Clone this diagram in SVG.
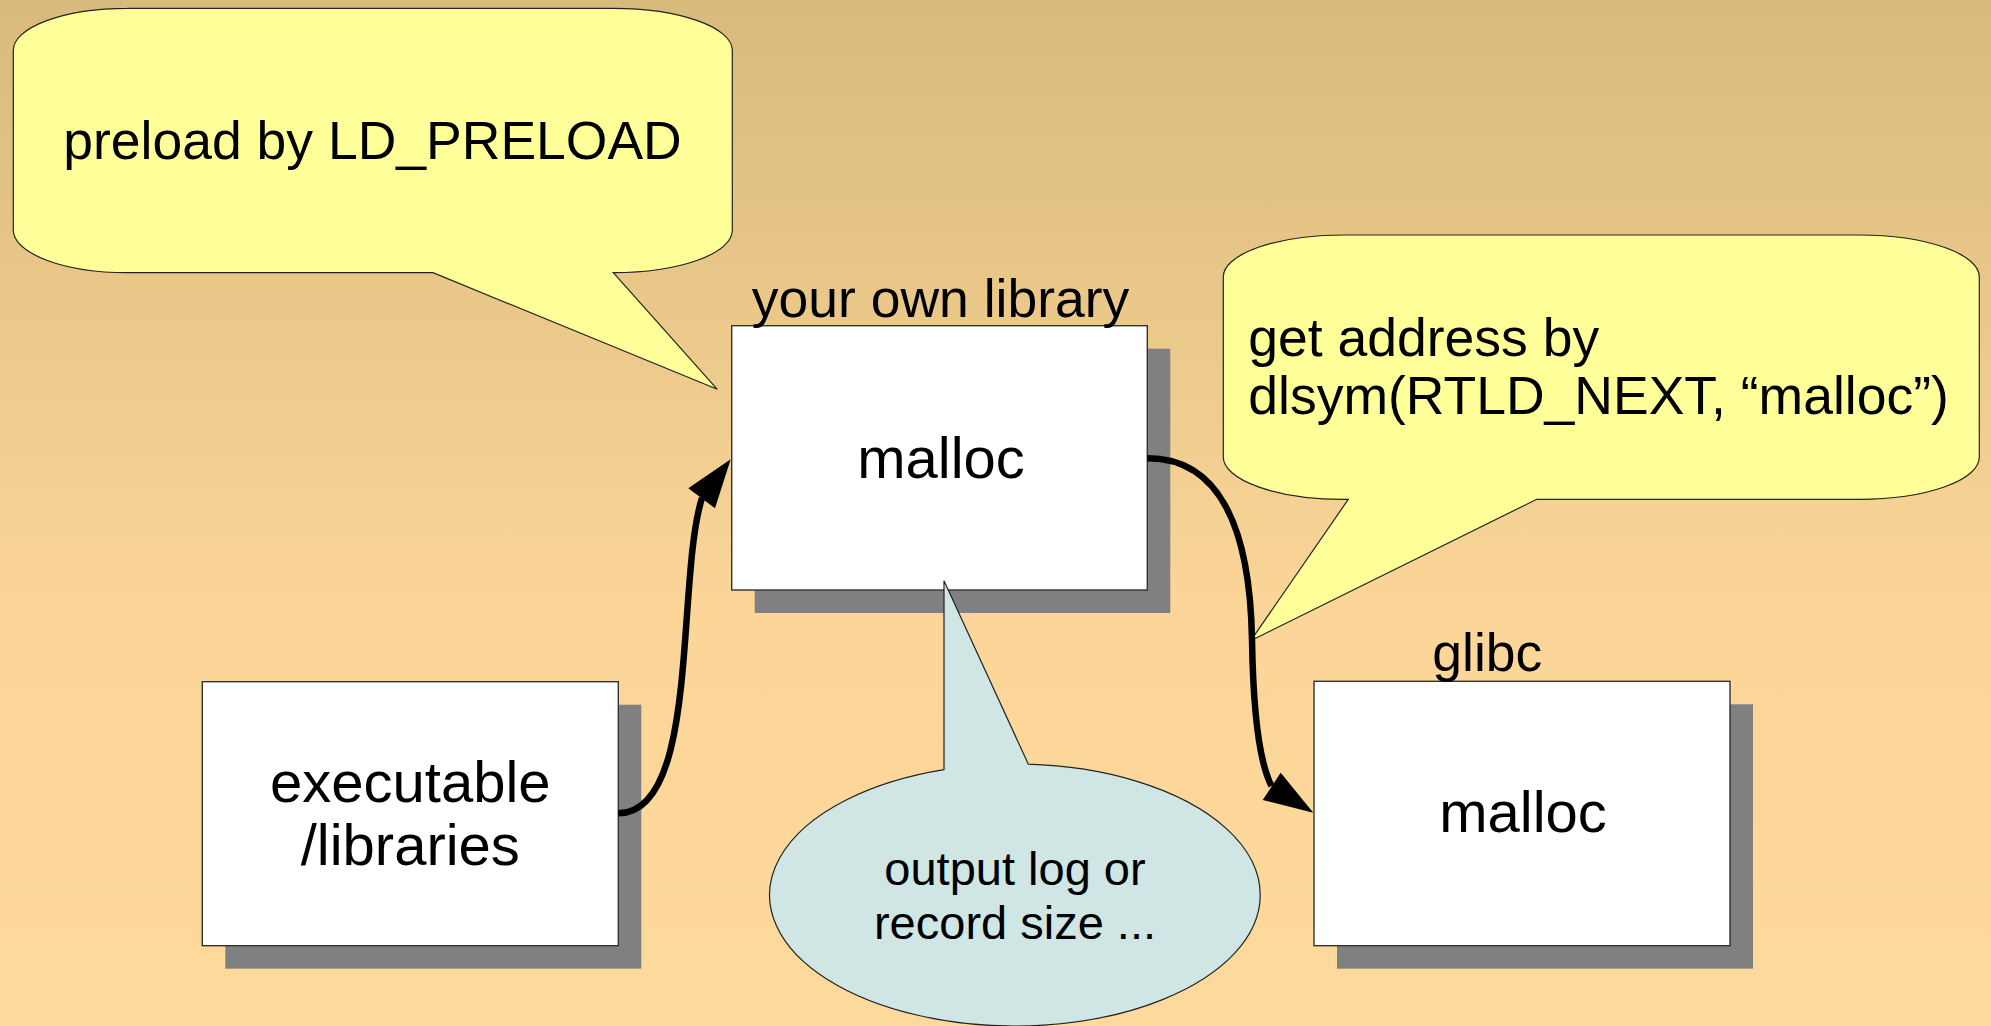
<svg xmlns="http://www.w3.org/2000/svg" width="1991" height="1026" viewBox="0 0 1991 1026">
<defs>
<linearGradient id="bg" x1="0" y1="0" x2="0" y2="1">
<stop offset="0" stop-color="#d8ba7c"/>
<stop offset="0.6" stop-color="#fbd698"/>
<stop offset="1" stop-color="#fdd99b"/>
</linearGradient>
<style>
text{font-family:"Liberation Sans",Arial,sans-serif;fill:#000}
.box{fill:#fff;stroke:#333;stroke-width:1.4}
.shadow{fill:#808080}
.callout{fill:#ffff99;stroke:#222;stroke-width:1.2}
.callout2{fill:#cfe6e4;stroke:#222;stroke-width:1.2}
.conn{fill:none;stroke:#000;stroke-width:6.5;stroke-linecap:butt}
.head{fill:#000;stroke:none}
.t53{font-size:53.5px}
.t58{font-size:58px}
.t47{font-size:47px}
</style>
</defs>
<rect x="0" y="0" width="1991" height="1026" fill="url(#bg)"/>

<g id="node-own-library">
<rect class="shadow" x="754.7" y="348.7" width="415.6" height="264.3"/>
<rect class="box" x="731.7" y="325.7" width="415.6" height="264.3"/>
<text class="t53" x="751.7" y="316.7">your own library</text>
<text class="t58" x="941" y="478.3" text-anchor="middle">malloc</text>
</g>

<g id="node-executable">
<rect class="shadow" x="225.3" y="704.7" width="416" height="264"/>
<rect class="box" x="202.3" y="681.7" width="416" height="264"/>
<text class="t58" x="410.3" y="801.7" text-anchor="middle">executable</text>
<text class="t58" x="410.3" y="865" text-anchor="middle">/libraries</text>
</g>

<g id="node-glibc">
<rect class="shadow" x="1337" y="704.3" width="416" height="264.4"/>
<rect class="box" x="1314" y="681.3" width="416" height="264.4"/>
<text class="t53" x="1432.3" y="670.7">glibc</text>
<text class="t58" x="1523" y="832.3" text-anchor="middle">malloc</text>
</g>

<g id="callout-preload">
<path class="callout" d="M127,8.3 L613.3,8.3 A119,42 0 0 1 732.3,50.3 L732.3,230.3 A119,42.4 0 0 1 613.3,272.7 L717.3,389.3 L433,272.7 L127.3,272.7 A114,42.7 0 0 1 13.3,230 L13.3,50.3 A114,42 0 0 1 127.3,8.3 Z"/>
<text class="t53" x="372.5" y="159" text-anchor="middle">preload by LD_PRELOAD</text>
</g>

<g id="callout-dlsym">
<path class="callout" d="M1343.3,235 L1859.3,235 A120,42 0 0 1 1979.3,277 L1979.3,457.3 A120,42 0 0 1 1859.3,499.3 L1536.7,499.3 L1250.7,640.7 L1348.3,499.3 L1343.3,499.3 A120,42.3 0 0 1 1223.3,457 L1223.3,277 A120,42 0 0 1 1343.3,235 Z"/>
<text class="t53" x="1248.3" y="356">get address by</text>
<text class="t53" x="1248.3" y="414.3">dlsym(RTLD_NEXT, “malloc”)</text>
</g>

<g id="callout-output">
<path class="callout2" d="M944,769.6 L944,580.7 L1028.3,764.2 A245.3,131 0 1 1 944,769.6 Z"/>
<text class="t47" x="1015" y="885" text-anchor="middle">output log or</text>
<text class="t47" x="1015" y="939.3" text-anchor="middle">record size ...</text>
</g>

<g id="connectors">
<path class="conn" d="M618.3,813.3 C700,813.3 676,580 702,498"/>
<polygon class="head" points="730.7,459.3 688.3,488.3 715,508.3"/>
<path class="conn" d="M1147.3,458.3 C1215,458 1250,520 1252,640 C1253,700 1257,758 1271.5,786"/>
<polygon class="head" points="1313.3,812.7 1262.7,800 1280.7,772.7"/>
</g>
</svg>
